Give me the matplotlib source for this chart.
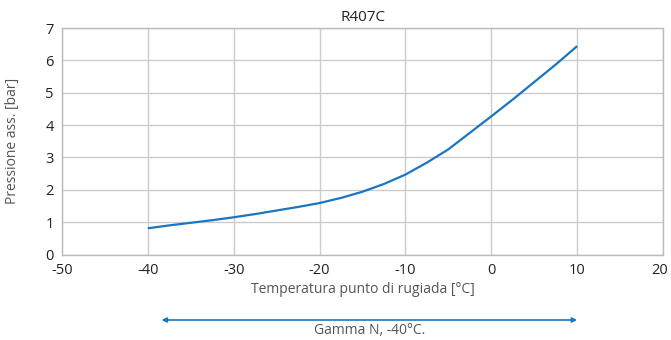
import matplotlib
matplotlib.use("Agg")
import matplotlib.pyplot as plt
import matplotlib.transforms as mtransforms

plt.rcParams['font.family'] = ['Open Sans', 'DejaVu Sans']
plt.rcParams['axes.unicode_minus'] = False

temperature = [-40, -37.5, -35, -32.5, -30, -27.5, -25, -22.5, -20, -17.5, -15,
               -12.5, -10, -7.5, -5, -2.5, 0, 2.5, 5, 7.5, 10]
pressure = [0.81, 0.90, 0.98, 1.06, 1.15, 1.25, 1.36, 1.47, 1.59, 1.75, 1.94,
            2.18, 2.47, 2.84, 3.25, 3.76, 4.27, 4.79, 5.33, 5.87, 6.44]

x_ticks = [-50, -40, -30, -20, -10, 0, 10, 20]
y_ticks = [0, 1, 2, 3, 4, 5, 6, 7]

title = "R407C"
x_label = "Temperatura punto di rugiada [°C]"
y_label = "Pressione ass. [bar]"
range_label = "Gamma N, -40°C."
range_start = -38.4
range_end = 10

line_color = "#1a75c4"
grid_color = "#cccccc"
text_color = "#222222"
label_color = "#555555"

fig = plt.figure(figsize=(6.71, 3.40), dpi=100)
ax = fig.add_axes([62 / 671, 1 - 254.5 / 340, (663 - 62) / 671, (254.5 - 28) / 340])

ax.plot(temperature, pressure, color=line_color, linewidth=1.6,
        solid_capstyle='butt', solid_joinstyle='round')

ax.set_xlim(-50, 20)
ax.set_ylim(0, 7)
ax.set_xticks(x_ticks)
ax.set_yticks(y_ticks)
ax.grid(True, color=grid_color, linewidth=1.0)
ax.set_axisbelow(True)
for s in ax.spines.values():
    s.set_color("#bbbbbb")
    s.set_linewidth(1.0)
ax.tick_params(length=0, labelsize=10.5, colors=text_color, pad=6)

fig.canvas.draw()
last = ax.get_xticklabels()[-1]
last.set_transform(last.get_transform() +
                   mtransforms.ScaledTranslation(-3 / 100, 0, fig.dpi_scale_trans))

ax.set_title(title, fontsize=11, color=text_color, pad=5)
ax.set_xlabel(x_label, fontsize=10, color=label_color, labelpad=3)
ax.set_ylabel(y_label, fontsize=10, color=label_color, labelpad=18)

trans = ax.get_xaxis_transform()
y_arrow = -(320 - 254.5) / 226.5
ax.annotate("", xy=(range_end, y_arrow), xytext=(range_start, y_arrow),
            xycoords=trans, textcoords=trans, annotation_clip=False,
            arrowprops=dict(arrowstyle="<|-|>", color=line_color, lw=1.2,
                            mutation_scale=7, shrinkA=0, shrinkB=0))
ax.text((range_start + range_end) / 2, -(331 - 254.5) / 226.5, range_label,
        transform=trans, ha='center', va='center', fontsize=10, color=label_color)

fig.savefig("out.png", dpi=100)
